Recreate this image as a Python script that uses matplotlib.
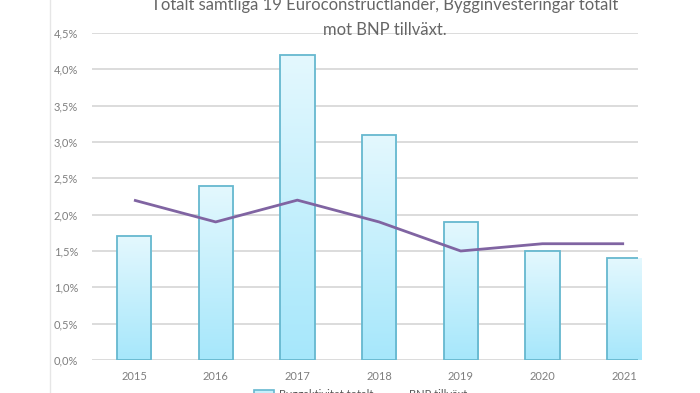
import matplotlib
matplotlib.use("Agg")
import matplotlib.pyplot as plt
import numpy as np
from matplotlib.colors import LinearSegmentedColormap
from matplotlib.lines import Line2D
from matplotlib.patches import Patch

plt.rcParams["font.family"] = ["Lato", "DejaVu Sans"]

years = ["2015", "2016", "2017", "2018", "2019", "2020", "2021"]
bygg = [1.7, 2.4, 4.2, 3.1, 1.9, 1.5, 1.4]   # Byggaktivitet totalt, %
bnp = [2.2, 1.9, 2.2, 1.9, 1.5, 1.6, 1.6]    # BNP tillväxt, %
yticks = [0.0, 0.5, 1.0, 1.5, 2.0, 2.5, 3.0, 3.5, 4.0, 4.5]
title = ["Totalt samtliga 19 Euroconstructländer, Bygginvesteringar totalt",
         "mot BNP tillväxt."]

TEXT = "#7f7f7f"
GRID = "#d9d9d9"
EDGE = "#66b8cf"
LINE = "#8064a2"
W = 0.42

fig = plt.figure(figsize=(7.0, 3.93), dpi=100)
ax = fig.add_axes([92 / 700, 33 / 393, 546 / 700, 327 / 393])

cmap = LinearSegmentedColormap.from_list("bar", ["#a6e7fb", "#e4f8fe"])
grad = np.linspace(0, 1, 256).reshape(-1, 1)
x = np.arange(len(years))
bars = ax.bar(x, bygg, width=W, facecolor="none", edgecolor=EDGE, lw=1.3, zorder=3)
for b, h in zip(bars, bygg):
    im = ax.imshow(grad, cmap=cmap, origin="lower", aspect="auto", zorder=2,
                   extent=[b.get_x(), b.get_x() + b.get_width(), 0, h])
    im.set_clip_path(b)

ax.plot(x, bnp, color=LINE, lw=2, zorder=4, solid_capstyle="butt")

ax.set_xlim(-0.514, 6.17)
ax.set_ylim(0, 4.5)
ax.set_yticks(yticks)
ax.set_yticklabels([f"{v:.1f}%".replace(".", ",") for v in yticks])
ax.set_xticks(x)
ax.set_xticklabels(years)
ax.tick_params(length=0, labelsize=8, colors=TEXT)
ax.tick_params(axis="y", pad=10)
ax.tick_params(axis="x", pad=8)
ax.grid(axis="y", color=GRID, lw=1.3, zorder=0)
ax.set_axisbelow(True)
for s in ax.spines.values():
    s.set_visible(False)

# title is cut at the top edge, as in the original screenshot
fig.text(0.55, 1 - 5 / 393, title[0], ha="center", va="center", fontsize=12, color="#666666")
fig.text(0.55, 1 - 30 / 393, title[1], ha="center", va="center", fontsize=12, color="#666666")

fig.add_artist(Line2D([50 / 700, 50 / 700], [0, 1], color="#e6e6e6", lw=1))

handles = [Patch(facecolor="#c6f0fc", edgecolor=EDGE, lw=1.2),
           Line2D([], [], color=LINE, lw=4)]
fig.legend(handles, ["Byggaktivitet totalt", "BNP tillväxt"], loc="upper center",
           bbox_to_anchor=(0.515, 0.035), ncol=2, frameon=False, fontsize=8,
           labelcolor="#595959", handlelength=1.8, handletextpad=0.4, columnspacing=1.0)

fig.savefig("out.png", dpi=100)
